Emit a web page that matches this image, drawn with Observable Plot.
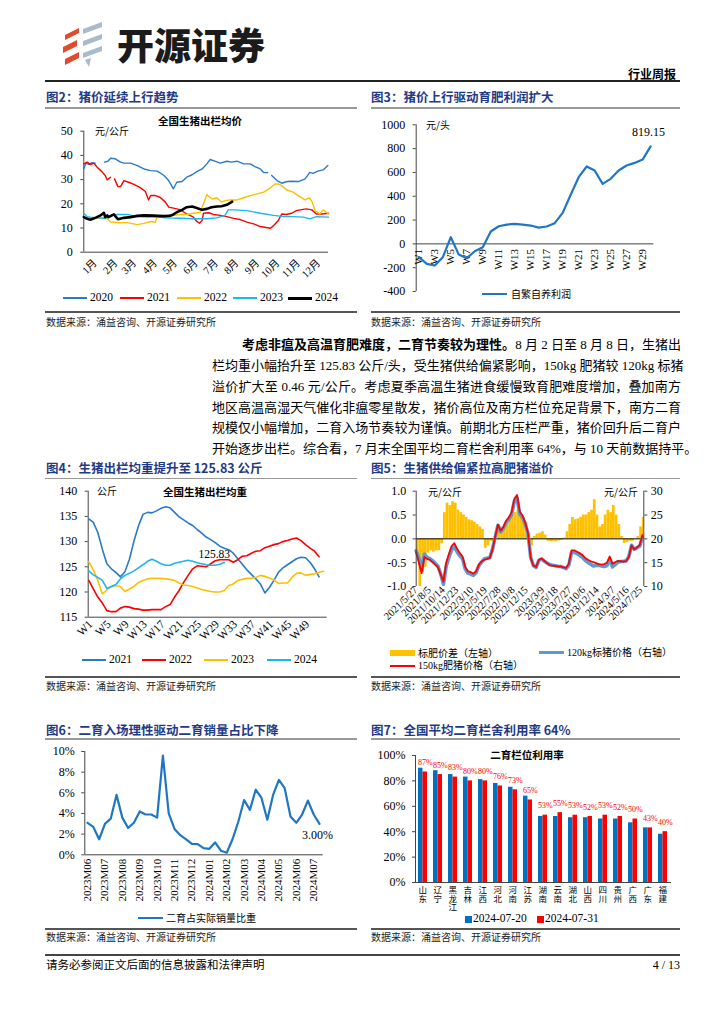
<!DOCTYPE html>
<html><head><meta charset="utf-8">
<script src="https://cdn.jsdelivr.net/npm/d3@7"></script>
<script src="https://cdn.jsdelivr.net/npm/@observablehq/plot@0.6"></script>
<style>
html,body{margin:0;padding:0;background:#fff;}
#page{position:relative;width:724px;height:1024px;overflow:hidden;background:#fff;font-family:"Liberation Serif","Noto Sans CJK SC",serif;color:#000;}
.a{position:absolute;white-space:nowrap;}
.chart{position:absolute;}
.chart svg{overflow:visible;}
.vert{position:absolute;writing-mode:vertical-rl;text-orientation:upright;white-space:nowrap;line-height:1;}
</style></head><body><div id="page"></div>
<script>
// ================= DATA =================
// Fig 2: national hog price by year (day of year, yuan/kg)
const monthLabels = ["1月","2月","3月","4月","5月","6月","7月","8月","9月","10月","11月","12月"];
const days2020 = [0,3,8,12,17,18,31,36,40,47,55,60,70,80,90,100,110,120,127,134,139,147,154,162,169,177,184,189,196,204,214,221,229,239,249,256,264,269,275,276,281,289,296,304,311,321,331,338,343,350,358,365];
const vals2020 = [34.5,36.8,36.2,37.0,36.8,null,37.2,37.6,38.8,38.6,37.2,36.8,36.8,35.8,34.4,33.7,33.5,31.7,29.6,26.2,28.9,29.2,31.0,32.0,33.3,34.4,36.5,38.3,37.6,36.8,37.6,37.2,37.6,36.5,36.5,35.4,34.4,32.9,32.9,null,31.7,29.6,28.5,29.2,29.3,29.2,30.3,33.0,32.6,33.5,34.0,35.8];
const days2021 = [0,5,10,15,20,27,32,35,40,41,46,51,55,60,67,75,85,92,97,100,107,114,122,127,134,144,154,164,169,173,177,179,187,194,204,214,224,234,244,254,264,279,284,291,296,303,311,318,326,333,341,348,356,366];
const vals2021 = [36.5,37.2,36.2,36.8,35.1,33.3,31.7,29.9,31.0,null,30.3,27.1,27.1,29.6,28.9,28.0,26.6,25.1,21.6,23.4,23.4,22.7,20.7,18.6,18.2,17.6,15.8,14.5,12.7,12.0,13.1,16.1,16.3,15.6,15.2,14.7,14.0,13.5,12.4,11.7,10.6,9.9,11.0,13.1,15.8,15.6,16.1,17.2,17.6,17.9,17.5,15.8,15.8,16.1];
const days2022 = [0,10,25,35,40,50,65,80,90,100,107,109,114,134,144,154,164,174,179,184,187,192,199,206,211,219,229,239,249,259,269,279,286,291,296,303,313,323,331,337,341,346,353,358,366];
const vals2022 = [14.5,14.2,14.0,13.8,12.5,12.3,12.2,11.4,11.9,12.7,12.4,14.2,14.7,15.2,15.6,15.6,16.1,16.5,20.0,23.8,23.0,22.0,22.5,20.7,21.3,21.6,21.6,22.5,23.4,24.1,24.8,26.6,28.2,28.2,27.5,25.8,24.8,23.0,21.6,22.5,21.1,17.2,15.8,17.5,15.8];
const days2023 = [0,5,10,22,32,40,50,65,80,95,110,124,144,164,184,199,211,216,224,244,264,284,299,313,328,338,348,366];
const vals2023 = [16.1,14.7,14.5,14.2,14.0,15.2,15.6,15.6,14.7,14.5,14.5,14.2,14.0,13.8,13.8,14.2,15.2,17.5,17.5,17.2,16.1,15.2,14.7,14.7,14.5,13.8,14.7,14.5];
const days2024 = [0,5,10,17,25,30,32,35,37,45,51,60,70,80,90,104,119,129,134,139,147,154,162,169,177,184,191,199,206,214,219,222];
const vals2024 = [14.5,13.8,13.4,14.2,15.2,16.3,14.5,15.2,14.5,15.6,13.6,14.2,14.5,15.0,15.2,15.1,14.9,15.0,15.6,16.5,17.5,18.6,18.9,18.3,17.5,17.9,18.6,18.9,19.0,19.6,20.4,20.9];

// Fig 3: self-breeding profit (yuan/head), weeks W1..W30
const profitWeeks = d3.range(1, 31);
const profit = [-112,-168,-182,-112,56,-90,-120,-62,-28,104,148,162,168,162,154,137,146,174,260,412,560,650,616,504,546,616,658,680,708,819.15];

// Fig 4: average slaughter weight (kg), weekly
const wt2021 = [134.5,133.8,131.8,128.5,125.6,124.6,123.9,123.0,124.0,126.5,130.1,133.1,135.4,135.8,135.7,136.1,136.6,136.9,136.7,135.8,134.9,134.3,133.7,133.2,132.4,131.7,130.9,130.4,129.8,129.1,128.7,128.4,127.7,126.6,125.5,124.4,123.5,122.6,121.6,119.8,120.9,122.3,123.9,124.8,125.4,126.0,126.6,126.9,126.8,125.9,124.6,123.0];
const wt2022 = [122.3,120.6,119.0,117.8,116.3,116.1,116.1,116.8,117.1,117.0,116.7,116.6,116.4,116.4,116.5,116.5,116.5,117.1,117.5,119.0,120.3,121.9,123.3,124.6,125.2,125.1,125.0,125.6,126.2,126.4,126.4,126.4,125.9,126.4,127.1,127.2,127.7,128.1,128.2,128.8,129.1,129.4,129.6,130.0,130.2,130.5,130.7,130.2,129.4,128.7,128.1,127.0];
const wt2023 = [126.0,124.4,122.3,119.6,120.4,121.1,121.3,121.1,120.1,120.6,121.1,121.9,122.3,122.6,122.7,122.7,122.7,122.6,122.5,122.3,121.8,121.4,121.3,121.1,120.8,120.5,120.3,120.1,120.0,120.0,120.3,121.3,121.6,122.3,122.5,122.7,122.7,122.9,123.3,123.1,122.8,122.4,121.7,121.8,121.8,122.9,123.7,123.8,123.3,123.5,123.6,123.9,124.1];
const wt2024 = [124.2,123.4,122.9,122.3,120.7,121.1,121.5,122.6,123.3,123.7,124.2,124.8,125.4,126.1,126.5,126.1,125.6,125.3,125.3,125.7,125.9,126.1,126.3,126.1,125.8,125.6,125.4,125.3,125.3,125.5,125.83];
const weekTicks4 = [1,5,9,13,17,21,25,29,33,37,41,45,49];

// Fig 5: fat-standard spread (left) and prices (right), biweekly from 2021-05-27
const f5Start = "2021-05-27";
const spread = [-0.3,-1.0,-0.7,-0.6,-0.3,-0.25,-0.28,-0.25,-0.25,-0.1,0.55,0.75,0.7,0.78,0.75,0.6,0.55,0.5,0.45,0.4,0.38,0.35,0.3,0.25,0.2,-0.2,-0.15,-0.05,-0.05,0.1,0.15,0.25,0.3,0.35,0.4,0.5,0.55,0.6,0.5,0.45,0.35,0.1,-0.15,0.05,0.1,0.12,0.15,0.08,-0.05,-0.06,-0.05,-0.06,-0.04,-0.03,0.02,0.15,0.3,0.45,0.4,0.42,0.45,0.5,0.5,0.55,0.6,0.82,0.5,0.25,0.3,0.5,0.6,0.55,0.7,0.5,0.3,0.05,-0.1,-0.08,-0.05,-0.05,0.0,0.05,0.25,0.45];
const price150 = [17.2,15.0,12.8,16.2,15.8,15.6,15.1,14.6,14.0,12.5,11.0,15.0,16.8,18.5,19.1,17.9,17.0,16.3,14.1,13.2,13.0,12.7,13.2,14.6,15.3,15.6,15.8,16.0,17.8,20.5,23.0,21.7,22.5,23.8,24.5,25.6,28.4,29.2,25.7,24.9,23.4,21.3,16.0,14.4,14.1,15.6,15.9,15.4,14.9,14.5,14.4,14.3,14.2,14.2,14.0,13.9,14.8,17.6,17.6,17.3,17.0,16.6,16.0,15.6,15.3,15.1,14.9,14.7,14.6,14.7,15.0,16.3,14.8,15.1,15.4,15.3,15.2,15.3,16.2,18.6,17.8,18.2,18.7,20.8];
const price120 = [17.5,16.0,13.5,16.8,16.1,15.85,15.4,14.85,14.25,12.6,10.45,14.25,16.1,17.7,18.35,17.3,16.45,15.8,13.65,12.8,12.6,12.35,12.9,14.35,15.1,15.8,15.95,16.05,17.85,20.4,22.85,21.45,22.2,23.45,24.1,25.1,27.85,28.6,25.2,24.45,23.05,21.2,16.15,14.35,14.0,15.5,15.75,15.3,14.95,14.55,14.45,14.35,14.25,14.2,14.0,13.75,14.5,17.15,17.2,16.9,16.55,16.1,15.5,15.05,14.7,14.3,14.4,14.45,14.3,14.2,14.4,15.75,14.1,14.6,15.1,15.25,15.3,15.4,16.25,18.65,17.8,18.15,18.45,20.35];
const dateTicks5 = ["2021-05-27","2021-08-05","2021-10-14","2021-12-23","2022-03-10","2022-05-19","2022-07-28","2022-10-08","2022-12-15","2023-03-09","2023-05-18","2023-07-27","2023-10-06","2023-12-14","2024-03-07","2024-05-16","2024-07-25"];

// Fig 6: share of re-fattening in actual sales (%), ~every 10 days
const monthTicks6 = ["2023M06","2023M07","2023M08","2023M09","2023M10","2023M11","2023M12","2024M01","2024M02","2024M03","2024M04","2024M05","2024M06","2024M07"];
const share = [3.1,2.7,1.5,3.0,3.5,5.8,3.6,2.6,3.1,4.2,3.9,3.9,3.6,9.6,4.0,2.5,1.9,1.5,1.06,1.03,0.65,0.58,1.2,0.4,0.2,1.5,3.2,5.3,4.35,6.3,5.5,3.4,5.8,7.25,6.45,3.7,3.1,3.9,5.25,3.9,3.0];

// Fig 7: pen utilisation (%)
const provinces = ["山东","辽宁","黑龙江","吉林","江西","河北","河南","江苏","湖南","云南","湖北","山西","四川","贵州","广西","广东","福建"];
const util0720 = [90,88,85,83,81,78,75,68,52,52,51,51,50,50,47,43,38];
const util0731 = [87,85,83,80,80,76,73,65,53,55,53,52,53,52,50,43,40];

// ================= HELPERS =================
const page = document.getElementById("page");
const CJK = '"Noto Sans CJK SC",sans-serif';
const SERIF = '"Liberation Serif","Noto Sans CJK SC",serif';
function T(str, x, y, o = {}) {
  const d = document.createElement("div");
  d.className = "a";
  if (o.html) d.innerHTML = str; else d.textContent = str;
  const fs = o.fs || 12;
  Object.assign(d.style, {fontSize: fs + "px", lineHeight: "1", top: (y - fs / 2) + "px",
    fontFamily: o.ff || SERIF, fontWeight: o.fw || "normal", color: o.c || "#000"});
  if (o.anchor === "end") d.style.right = (724 - x) + "px";
  else if (o.anchor === "middle") { d.style.left = x + "px"; d.style.transform = "translateX(-50%)"; }
  else d.style.left = x + "px";
  page.appendChild(d); return d;
}
function H(x1, x2, y, w, c) {
  const d = document.createElement("div"); d.className = "a";
  Object.assign(d.style, {left: x1 + "px", top: (y - w / 2) + "px", width: (x2 - x1) + "px", height: w + "px", background: c});
  page.appendChild(d);
}
function B(x, y, w, h, c) {
  const d = document.createElement("div"); d.className = "a";
  Object.assign(d.style, {left: x + "px", top: y + "px", width: w + "px", height: h + "px", background: c});
  page.appendChild(d);
}
function place(svg, x, y) {
  const d = document.createElement("div"); d.className = "chart";
  d.style.left = x + "px"; d.style.top = y + "px";
  d.appendChild(svg); page.appendChild(d);
}
function legLine(x, y, c, w, label, fs = 11) { H(x, x + 24, y, w, c); T(label, x + 27, y, {fs}); }

const baseStyle = {fontFamily: SERIF, fontSize: "11px", background: "transparent", overflow: "visible"};
const AX = "#444";

// ================= HEADER =================
const logo = document.createElement("div");
logo.className = "a"; logo.style.left = "58px"; logo.style.top = "22px";
logo.innerHTML = `<svg width="52" height="46" viewBox="0 0 52 46">
 <g fill="#E04A2F"><path d="M7 13 L21 6 L21 11 L7 18Z"/><path d="M5 25 L19 18 L19 24 L5 31Z"/><path d="M7 37 L21 30 L21 36 L7 43Z"/></g>
 <g fill="#A8BBCB"><path d="M25 7 L44 0 L44 5 L25 12Z"/><path d="M25 19 L44 12 L44 17 L25 24Z"/><path d="M25 31 L44 24 L44 29 L25 36Z"/><path d="M27 38 L33 36 L31 45 Z"/></g></svg>`;
page.appendChild(logo);
T("开源证券", 117, 44, {fs: 37, ff: CJK, fw: 900, c: "#1b1b1b"});
T("行业周报", 676, 74, {fs: 12, ff: CJK, fw: 700, anchor: "end"});
H(45, 680, 80.5, 2, "#222");

const TITLE_C = "#1F3A86";
function figTitle(str, x, y) { T(str, x, y, {fs: 12.5, ff: CJK, fw: 700, c: TITLE_C}); }
const SRC = "数据来源：涌益咨询、开源证券研究所";
function src(x, y) { T(SRC, x, y, {fs: 10, ff: CJK, c: "#222"}); }

// row 1 titles
figTitle("图2：猪价延续上行趋势", 46, 97);
figTitle("图3：猪价上行驱动育肥利润扩大", 371, 97);
H(45, 357, 108, 1.5, "#999"); H(371, 680, 108, 1.5, "#999");

// ================= FIG 2 =================
{
  const mk = (days, vals) => days.map((d, i) => ({day: d, v: vals[i]}));
  const s = [mk(days2020, vals2020), mk(days2021, vals2021), mk(days2022, vals2022), mk(days2023, vals2023), mk(days2024, vals2024)];
  const cols = ["#2A7AC7", "#FF0000", "#FFC000", "#1DB4F0", "#000000"];
  const y0 = Date.UTC(2021, 0, 1);
  const monthPos = monthLabels.map((m, i) => (Date.UTC(2021, i, 15) - y0) / 864e5);
  const fig = Plot.plot({
    width: 320, height: 178, marginLeft: 43.3, marginRight: 32, marginTop: 20.7, marginBottom: 36.3,
    style: baseStyle,
    x: {domain: [0, 366], axis: null},
    y: {domain: [0, 50], axis: null},
    marks: [
      Plot.axisY({ticks: [0, 10, 20, 30, 40, 50], label: null, tickSize: 3, tickPadding: 8, fontSize: 12, stroke: AX}),
      Plot.ruleX([0], {stroke: AX}),
      Plot.ruleY([0], {stroke: AX}),
      Plot.text(monthLabels, {x: (d, i) => monthPos[i], y: 0, text: d => d, rotate: -45, textAnchor: "end", dy: 9, dx: 2, fontSize: 10.5}),
      ...s.map((ser, k) => Plot.line(ser, {x: "day", y: "v", stroke: cols[k], strokeWidth: k === 4 ? 2.6 : 1.4}))
    ]
  });
  place(fig, 40, 110);
  T("全国生猪出栏均价", 200, 121, {fs: 10.5, ff: CJK, fw: 700, anchor: "middle"});
  T("元/公斤", 95, 131, {fs: 10, ff: CJK});
  const lx = [63, 120, 177, 233, 288];
  ["2020", "2021", "2022", "2023", "2024"].forEach((l, k) => legLine(lx[k], 298, cols[k], k === 4 ? 3 : 1.8, l, 11.5));
  H(45, 357, 312, 1.5, "#555");
  src(46, 322);
}

// ================= FIG 3 =================
{
  const data = profitWeeks.map((w, i) => ({w, v: profit[i]}));
  const fig = Plot.plot({
    width: 320, height: 200, marginLeft: 50.7, marginRight: 31.7, marginTop: 14.3, marginBottom: 19,
    style: baseStyle,
    x: {domain: [0.67, 30.4], axis: null},
    y: {domain: [-400, 1000], axis: null},
    marks: [
      Plot.axisY({ticks: d3.range(-400, 1001, 200), label: null, tickFormat: d => String(d), tickSize: 3, tickPadding: 8, fontSize: 12, stroke: AX}),
      Plot.ruleX([0.67], {stroke: AX}),
      Plot.ruleY([0], {stroke: AX}),
      Plot.text(profitWeeks.filter(w => w % 2 === 1), {x: d => d, y: 0, text: d => "W" + d, rotate: -90, textAnchor: "end", dy: 5, fontSize: 11}),
      Plot.line(data, {x: "w", y: "v", stroke: "#1F77C4", strokeWidth: 2.2}),
      Plot.text(data.slice(-1), {x: "w", y: "v", text: d => d.v.toFixed(2), dy: -14, dx: -2, fontSize: 12})
    ]
  });
  place(fig, 365, 110);
  T("元/头", 426, 125, {fs: 10, ff: CJK});
  H(482, 507, 294, 2.5, "#1F77C4");
  T("自繁自养利润", 511, 294, {fs: 10, ff: CJK});
  H(371, 680, 312, 1.5, "#555");
  src(371, 322);
}

// ================= PARAGRAPH =================
{
  const lines = [
    '<b style="font-weight:700">考虑非瘟及高温育肥难度，二育节奏较为理性。</b>8 月 2 日至 8 月 8 日，生猪出',
    '栏均重小幅抬升至 125.83 公斤/头，受生猪供给偏紧影响，150kg 肥猪较 120kg 标猪',
    '溢价扩大至 0.46 元/公斤。考虑夏季高温生猪进食缓慢致育肥难度增加，叠加南方',
    '地区高温高湿天气催化非瘟零星散发，猪价高位及南方栏位充足背景下，南方二育',
    '规模仅小幅增加，二育入场节奏较为谨慎。前期北方压栏严重，猪价回升后二育户',
    '开始逐步出栏。综合看，7 月末全国平均二育栏舍利用率 64%，与 10 天前数据持平。'
  ];
  const ys = [345, 366, 387, 407.5, 428, 448.5];
  lines.forEach((ln, i) => {
    const d = document.createElement("div");
    d.className = "a";
    d.innerHTML = ln;
    const left = i === 0 ? 242 : 212;
    Object.assign(d.style, {left: left + "px", width: (681 - left) + "px", top: (ys[i] - 7) + "px", fontSize: "13px", lineHeight: "14px",
      fontFamily: SERIF, textAlign: "justify", textAlignLast: i < 5 ? "justify" : "left", whiteSpace: "nowrap"});
    page.appendChild(d);
  });
}

// row 2 titles
figTitle("图4：生猪出栏均重提升至 125.83 公斤", 46, 468);
figTitle("图5：生猪供给偏紧拉高肥猪溢价", 371, 468);
H(45, 357, 478.5, 1.5, "#999"); H(371, 680, 478.5, 1.5, "#999");

// ================= FIG 4 =================
{
  const cols = ["#2A7AC7", "#FF0000", "#FFC000", "#1DB4F0"];
  const sers = [wt2021, wt2022, wt2023, wt2024].map(a => a.map((v, i) => ({w: i + 1, v})));
  const fig = Plot.plot({
    width: 320, height: 170, marginLeft: 47.7, marginRight: 33.3, marginTop: 10.7, marginBottom: 33.3,
    style: baseStyle,
    x: {domain: [0.87, 53.8], axis: null},
    y: {domain: [115, 140], axis: null},
    marks: [
      Plot.axisY({ticks: [115, 120, 125, 130, 135, 140], label: null, tickSize: 3, tickPadding: 8, fontSize: 12, stroke: AX}),
      Plot.ruleX([0.87], {stroke: AX}),
      Plot.ruleY([115], {stroke: AX}),
      Plot.text(weekTicks4, {x: d => d, y: 115, text: d => "W" + d, rotate: -45, textAnchor: "end", dy: 5, dx: 2, fontSize: 11.5}),
      ...sers.map((s, k) => Plot.line(s, {x: "w", y: "v", stroke: cols[k], strokeWidth: 1.6})),
      Plot.text(sers[3].slice(-1), {x: "w", y: "v", text: d => d.v.toFixed(2), dy: -8, dx: -10, fontSize: 11.5})
    ]
  });
  place(fig, 40, 480);
  T("全国生猪出栏均重", 205, 492, {fs: 10.5, ff: CJK, fw: 700, anchor: "middle"});
  T("公斤", 97, 491, {fs: 10, ff: CJK});
  const lx = [82, 142, 204, 267];
  ["2021", "2022", "2023", "2024"].forEach((l, k) => legLine(lx[k], 660, cols[k], 1.8, l, 11.5));
  H(45, 357, 677, 1.5, "#555");
  src(46, 686);
}

// ================= FIG 5 =================
{
  const start = new Date(f5Start);
  const data = spread.map((s, i) => ({date: d3.utcDay.offset(start, 14 * i), s, p120: price120[i], p150: price150[i]}));
  const d0 = new Date("2021-05-27"), d1 = new Date("2024-08-08");
  const ticks = dateTicks5.map(s => new Date(s));
  const fmt = d3.utcFormat("%Y/%-m/%-d");
  const fig = Plot.plot({
    width: 320, height: 170, marginLeft: 50.7, marginRight: 41.7, marginTop: 10.7, marginBottom: 64,
    style: baseStyle,
    x: {type: "utc", domain: [d0, d1], axis: null},
    y: {domain: [-1, 1], axis: null},
    marks: [
      Plot.rect(data, {x1: "date", x2: d => d3.utcDay.offset(d.date, 14), y1: 0, y2: "s", fill: "#FFC000", clip: true}),
      Plot.ruleY([0], {stroke: "#000"}),
      Plot.line(data, {x: "date", y: d => (d.p120 - 20) / 10, stroke: "#5B9BD5", strokeWidth: 3.6}),
      Plot.line(data, {x: "date", y: d => (d.p150 - 20) / 10, stroke: "#FF0000", strokeWidth: 1.8}),
      Plot.axisY({ticks: [-1, -0.5, 0, 0.5, 1], label: null, tickFormat: d => d.toFixed(1), tickSize: 3, tickPadding: 7, fontSize: 12, stroke: AX}),
      Plot.axisY({anchor: "right", label: null, ticks: [-1, -0.5, 0, 0.5, 1], tickFormat: d => String(20 + 10 * d), tickSize: 3, tickPadding: 4, fontSize: 12, stroke: AX}),
      Plot.ruleX([d0, d1], {stroke: AX}),
      Plot.text(ticks, {x: d => d, frameAnchor: "bottom", text: d => fmt(d), rotate: -45, textAnchor: "end", dy: 4, dx: 2, fontSize: 10.5})
    ]
  });
  place(fig, 365, 480);
  T("元/公斤", 428, 492, {fs: 10, ff: CJK});
  T("元/公斤", 638, 492, {fs: 10, ff: CJK, anchor: "end"});
  B(390, 649.5, 25, 6, "#FFC000");
  T("标肥价差（左轴）", 418, 652.5, {fs: 10, ff: CJK});
  H(539, 564, 652.5, 3, "#5B9BD5");
  T("120kg标猪价格（右轴）", 567, 652.5, {fs: 10});
  H(390, 415, 666, 2.5, "#FF0000");
  T("150kg肥猪价格（右轴）", 418, 666, {fs: 10});
  H(371, 680, 677, 1.5, "#555");
  src(371, 686);
}

// row 3 titles
figTitle("图6：二育入场理性驱动二育销量占比下降", 46, 730);
figTitle("图7：全国平均二育栏舍利用率 64%", 371, 730);
H(45, 357, 739, 1.5, "#999"); H(371, 680, 739, 1.5, "#999");

// ================= FIG 6 =================
{
  const data = share.map((v, i) => ({i, v}));
  const fig = Plot.plot({
    width: 320, height: 175, marginLeft: 44.3, marginRight: 37.3, marginTop: 16, marginBottom: 55.7,
    style: baseStyle,
    x: {domain: [-0.47, 40.64], axis: null},
    y: {domain: [0, 10], axis: null},
    marks: [
      Plot.axisY({ticks: [0, 2, 4, 6, 8, 10], label: null, tickFormat: d => d + "%", tickSize: 3, tickPadding: 7, fontSize: 12, stroke: AX}),
      Plot.ruleX([-0.47], {stroke: AX}),
      Plot.ruleY([0], {stroke: AX}),
      Plot.text(monthTicks6, {x: (d, i) => 3 * i, y: 0, text: d => d, rotate: -90, textAnchor: "end", dy: 4, fontSize: 11}),
      Plot.line(data, {x: "i", y: "v", stroke: "#1F77C4", strokeWidth: 2.2}),
      Plot.text(data.slice(-1), {x: "i", y: "v", text: d => d.v.toFixed(2) + "%", dy: 11, dx: -2, fontSize: 12})
    ]
  });
  place(fig, 40, 735);
  H(138, 163, 918, 2.5, "#1F77C4");
  T("二育占实际销量比重", 166, 918, {fs: 10, ff: CJK});
  H(45, 357, 929, 1.5, "#555");
  src(46, 937);
}

// ================= FIG 7 =================
{
  const H7 = 175, MB7 = 28;
  const fig = Plot.plot({
    width: 320, height: H7, marginLeft: 50, marginRight: 14, marginTop: 20, marginBottom: MB7,
    style: baseStyle,
    x: {domain: provinces, paddingInner: 0.4, paddingOuter: 0.2, axis: null},
    y: {domain: [0, 100], axis: null},
    marks: [
      Plot.axisY({ticks: [0, 20, 40, 60, 80, 100], label: null, tickFormat: d => d + "%", tickSize: 3, tickPadding: 7, fontSize: 12, stroke: AX}),
      Plot.barY(provinces, {x: d => d, y: (d, i) => util0720[i], fill: "#0070C0", insetRight: 4.5}),
      Plot.barY(provinces, {x: d => d, y: (d, i) => util0731[i], fill: "#FF0000", insetLeft: 4.5}),
      Plot.ruleY([0], {stroke: AX}),
      Plot.text(provinces, {x: d => d, y: (d, i) => util0731[i], text: (d, i) => util0731[i] + "%", dx: 2.3, dy: -9.5, fill: "#FF0000", fontSize: 8})
    ]
  });
  place(fig, 365, 735);
  // stacked (vertical, upright) category names, positioned with the plot's own x scale
  const xs = fig.scale("x");
  provinces.forEach(p => {
    const d = document.createElement("div");
    d.className = "vert";
    d.textContent = p;
    Object.assign(d.style, {fontSize: "8.5px", fontFamily: CJK, letterSpacing: "-0.2px",
      left: (365 + xs.apply(p) + xs.bandwidth / 2 - 4.25) + "px", top: (735 + H7 - MB7 + 4) + "px"});
    page.appendChild(d);
  });
  H(414.6, 415.6, 818.5, 127, AX);
  T("二育栏位利用率", 527, 755, {fs: 10.5, ff: CJK, fw: 700, anchor: "middle"});
  B(465, 915.5, 7, 7, "#0070C0");
  T("2024-07-20", 473, 919, {fs: 11.5});
  B(537, 915.5, 7, 7, "#FF0000");
  T("2024-07-31", 545, 919, {fs: 11.5});
  H(371, 680, 929, 1.5, "#555");
  src(371, 937);
}

// ================= FOOTER =================
H(45, 680, 955, 2, "#444");
T("请务必参阅正文后面的信息披露和法律声明", 46, 965, {fs: 11.5, ff: CJK});
T("4 / 13", 680, 965, {fs: 12, anchor: "end"});
</script></body></html>
